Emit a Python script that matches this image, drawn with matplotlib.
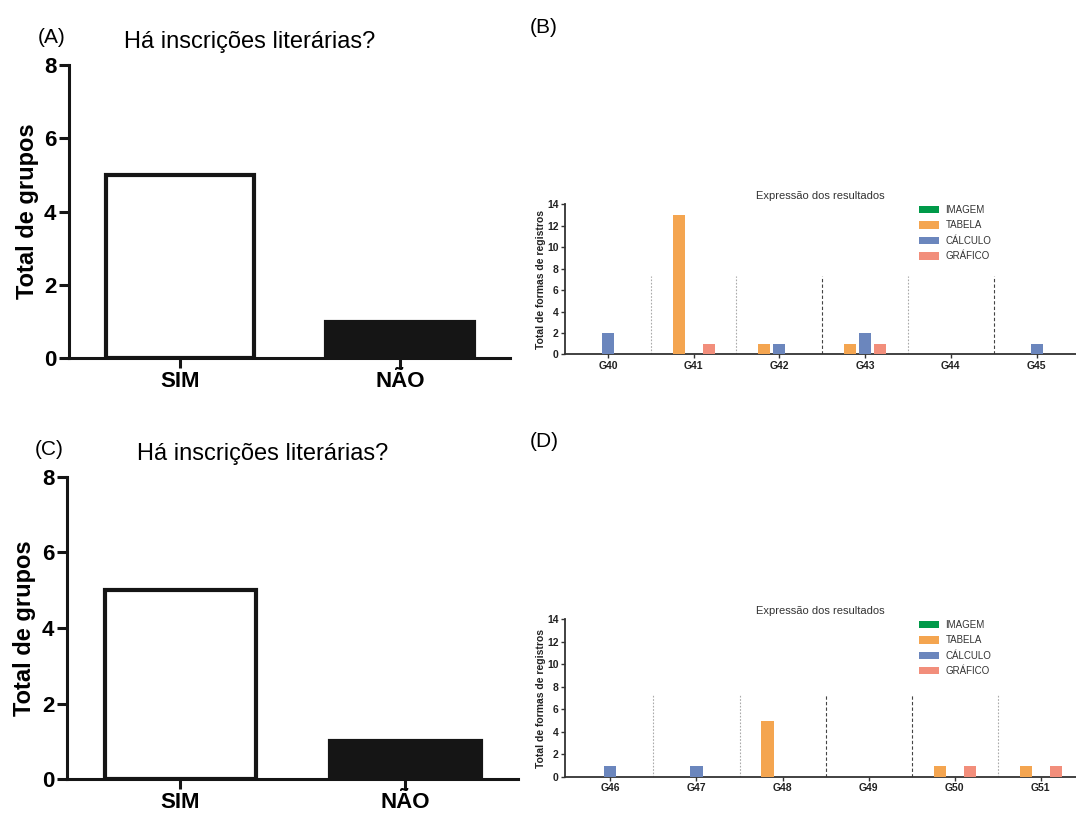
import numpy as np
import matplotlib
matplotlib.use("Agg")
import matplotlib.pyplot as plt
from matplotlib.patches import Patch

plt.rcParams['font.family'] = ['Liberation Sans', 'DejaVu Sans']

# data
resp_labels = ['SIM', 'NÃO']
resp_A = [5, 1]
resp_C = [5, 1]

series = ['IMAGEM', 'TABELA', 'CÁLCULO', 'GRÁFICO']
colors = ['#009A49', '#F4A550', '#6B86BD', '#F28E7B']

groups_B = ['G40', 'G41', 'G42', 'G43', 'G44', 'G45']
imagem_B = [0, 0, 0, 0, 0, 0]
tabela_B = [0, 13, 1, 1, 0, 0]
calculo_B = [2, 0, 1, 2, 0, 1]
grafico_B = [0, 1, 0, 1, 0, 0]

groups_D = ['G46', 'G47', 'G48', 'G49', 'G50', 'G51']
imagem_D = [0, 0, 0, 0, 0, 0]
tabela_D = [0, 0, 5, 0, 1, 1]
calculo_D = [1, 1, 0, 0, 0, 0]
grafico_D = [0, 0, 0, 0, 1, 1]

fig = plt.figure(figsize=(10.76, 8.14), dpi=100)


def yesno_panel(rect, vals, letter, xlim, title_x):
    ax = fig.add_axes(rect)
    x = np.arange(len(vals))
    ax.bar(x, vals, width=0.67, color=['white', '#151515'],
           edgecolor='#151515', linewidth=3, zorder=3)
    ax.set_xlim(*xlim)
    ax.set_ylim(0, 8)
    ax.set_yticks([0, 2, 4, 6, 8])
    ax.set_xticks(x)
    ax.set_xticklabels(resp_labels, fontsize=16, fontweight='bold')
    for t in ax.get_yticklabels():
        t.set_fontsize(16)
        t.set_fontweight('bold')
    for s in ['top', 'right']:
        ax.spines[s].set_visible(False)
    for s in ['left', 'bottom']:
        ax.spines[s].set_linewidth(2.2)
        ax.spines[s].set_color('#151515')
    ax.tick_params(width=2.2, length=7, color='#151515', pad=2)
    ax.set_ylabel('Total de grupos', fontsize=17, fontweight='bold', labelpad=4)
    ax.set_title('Há inscrições literárias?', fontsize=17, pad=12, x=title_x)
    ax.text(-0.07, 1.06, '(' + letter + ')', transform=ax.transAxes,
            fontsize=15, ha='left', va='bottom')
    return ax


def group_panel(rect, groups, data, xlim, seps):
    ax = fig.add_axes(rect)
    x = np.arange(len(groups))
    offs = [-0.35, -0.175, 0.0, 0.175]
    for vals, off, c in zip(data, offs, colors):
        ax.bar(x + off, vals, width=0.14, color=c, linewidth=0, zorder=3)
    for i, st in enumerate(seps):
        if st == 'light':
            ax.plot([i + 0.5, i + 0.5], [0, 7.3], color='#aaaaaa',
                    linestyle=(0, (1.5, 1.5)), linewidth=0.8, zorder=1)
        else:
            ax.plot([i + 0.5, i + 0.5], [0, 7.3], color='#444444',
                    linestyle=(0, (3, 2)), linewidth=0.8, zorder=1)
    ax.set_xlim(*xlim)
    ax.set_ylim(0, 14)
    ax.set_yticks(range(0, 15, 2))
    ax.set_xticks(x)
    ax.set_xticklabels(groups, fontsize=7.5, fontweight='bold', color='#222222')
    for t in ax.get_yticklabels():
        t.set_fontsize(7.5)
        t.set_fontweight('bold')
        t.set_color('#222222')
    for s in ['top', 'right']:
        ax.spines[s].set_visible(False)
    for s in ['left', 'bottom']:
        ax.spines[s].set_linewidth(1.3)
        ax.spines[s].set_color('#333333')
    ax.tick_params(width=1.0, length=3, color='#333333', pad=1.5)
    ax.set_ylabel('Total de formas de registros', fontsize=7.5,
                  fontweight='bold', color='#222222', labelpad=1)
    ax.set_title('Expressão dos resultados', fontsize=8, color='#333333', pad=4)
    handles = [Patch(facecolor=c, edgecolor='none') for c in colors]
    ax.legend(handles, series, loc='upper left', bbox_to_anchor=(0.693, 0.995),
              frameon=False, fontsize=7, handlelength=2.0, handleheight=0.8,
              labelspacing=0.55, handletextpad=0.7, borderpad=0,
              borderaxespad=0, labelcolor='#333333')
    return ax


yesno_panel([0.0641, 0.5598, 0.410, 0.3603], resp_A, 'A', (-0.505, 1.5), 0.41)
yesno_panel([0.062, 0.0426, 0.4194, 0.3718], resp_C, 'C', (-0.504, 1.5), 0.435)

group_panel([0.5251, 0.5645, 0.4749, 0.1844], groups_B,
            [imagem_B, tabela_B, calculo_B, grafico_B], (-0.5, 5.46),
            ['light', 'light', 'dark', 'light', 'dark'])
group_panel([0.5251, 0.0455, 0.4749, 0.1937], groups_D,
            [imagem_D, tabela_D, calculo_D, grafico_D], (-0.528, 5.41),
            ['light', 'light', 'dark', 'dark', 'light'])

fig.text(0.492, 0.966, '(B)', fontsize=15, ha='left', va='center')
fig.text(0.492, 0.458, '(D)', fontsize=15, ha='left', va='center')

fig.savefig('out.png', dpi=100, facecolor='white')
